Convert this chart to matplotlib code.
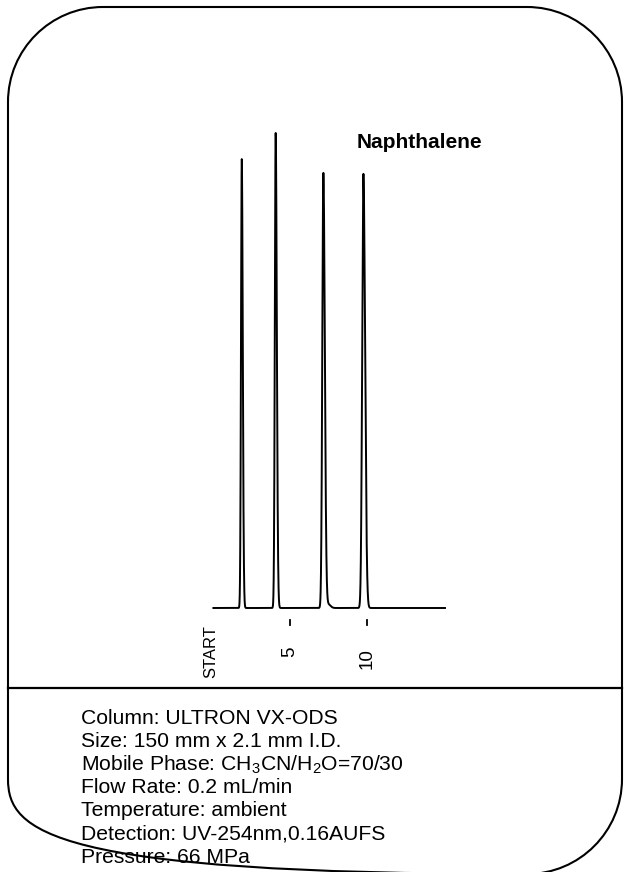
import numpy as np
import matplotlib
matplotlib.use("Agg")
import matplotlib.pyplot as plt
from matplotlib.path import Path
from matplotlib.patches import PathPatch
import matplotlib.transforms as mtransforms

plt.rcParams['font.family'] = ['Liberation Sans', 'DejaVu Sans']
plt.rcParams['mathtext.fontset'] = 'custom'
plt.rcParams['mathtext.rm'] = 'Liberation Sans'
plt.rcParams['mathtext.it'] = 'Liberation Sans:italic'
plt.rcParams['mathtext.bf'] = 'Liberation Sans:bold'

# Chromatogram peaks (retention time in min, relative height, front/tail widths in min)
retention_times = [1.85, 4.06, 7.17, 7.48, 9.78]
peak_heights = [94.5, 100.0, 91.6, 0.8, 91.4]
front_widths = [0.050, 0.055, 0.070, 0.100, 0.080]
tail_widths = [0.065, 0.075, 0.095, 0.150, 0.110]
run_end = 15.1

tick_positions = [0, 5, 10]
tick_labels = ['START', '5', '10']
compound_label = 'Naphthalene'

conditions = [
    'Column: ULTRON VX-ODS',
    'Size: 150 mm x 2.1 mm I.D.',
    'Mobile Phase: CH$_3$CN/H$_2$O=70/30',
    'Flow Rate: 0.2 mL/min',
    'Temperature: ambient',
    'Detection: UV-254nm,0.16AUFS',
    'Pressure: 66 MPa',
]

W, H = 625, 872
fig = plt.figure(figsize=(W / 100, H / 100), dpi=100)

# Full-page overlay in pixel units (y grows downward) for frame and text
page = fig.add_axes([0, 0, 1, 1])
page.set_xlim(0, W)
page.set_ylim(H, 0)
page.axis('off')

# Rounded outer frame (runs just past the bottom edge)
left, right, top, bottom = 8, 622, 7, 874
r = 95
k = 0.5523 * r
verts = [
    (left + r, top), (right - r, top),
    (right - r + k, top), (right, top + r - k), (right, top + r),
    (right, bottom - r),
    (right, bottom - r + k), (right - r + k, bottom), (right - r, bottom),
    (left + r, bottom),
    (left + r - k, bottom), (left, bottom - r + k), (left, bottom - r),
    (left, top + r),
    (left, top + r - k), (left + r - k, top), (left + r, top),
]
codes = [Path.MOVETO, Path.LINETO,
         Path.CURVE4, Path.CURVE4, Path.CURVE4,
         Path.LINETO,
         Path.CURVE4, Path.CURVE4, Path.CURVE4,
         Path.LINETO,
         Path.CURVE4, Path.CURVE4, Path.CURVE4,
         Path.LINETO,
         Path.CURVE4, Path.CURVE4, Path.CURVE4]
page.add_patch(PathPatch(Path(verts, codes), facecolor='none', edgecolor='black',
                         lw=1.5, clip_on=False))

# Divider between chromatogram and conditions
page.plot([left, right], [688, 688], color='black', lw=1.6)

page.text(357, 143, compound_label, ha='left', va='center',
          fontsize=15, fontweight='bold')

for i, line in enumerate(conditions):
    page.text(81, 718 + 23.2 * i, line, ha='left', va='center', fontsize=15.2)

# Chromatogram axes
x0_px, x1_px = 213.4, 445.0
y0_px, y1_px = 608.0, 133.0
ax = fig.add_axes([x0_px / W, (H - y0_px) / H, (x1_px - x0_px) / W, (y0_px - y1_px) / H])
ax.set_xlim(0, run_end)
ax.set_ylim(0, 100)
ax.axis('off')

t = np.linspace(0, run_end, 6000)
signal = np.zeros_like(t)
for rt, h, wf, wt in zip(retention_times, peak_heights, front_widths, tail_widths):
    s = np.where(t < rt, wf, wt)
    signal += h * np.exp(-0.5 * ((t - rt) / s) ** 2)
ax.plot(t, signal, color='black', lw=1.4, clip_on=False, solid_joinstyle='round')

# Time marks and labels under the trace (x in minutes, y in page pixels)
blend = mtransforms.blended_transform_factory(ax.transData, page.transData)
for pos in tick_positions[1:]:
    ax.plot([pos, pos], [620, 625], transform=blend, color='black',
            lw=1.3, clip_on=False)
label_centers = [652, 652, 659]
label_sizes = [12, 13.5, 13.5]
label_offsets = [-0.15, 0.0, 0.0]
for pos, lab, cy, fs, dx in zip(tick_positions, tick_labels, label_centers,
                                label_sizes, label_offsets):
    ax.text(pos + dx, cy, lab, transform=blend, rotation=90, ha='center',
            va='center', fontsize=fs)

fig.savefig('out.png', dpi=100, facecolor='white')
